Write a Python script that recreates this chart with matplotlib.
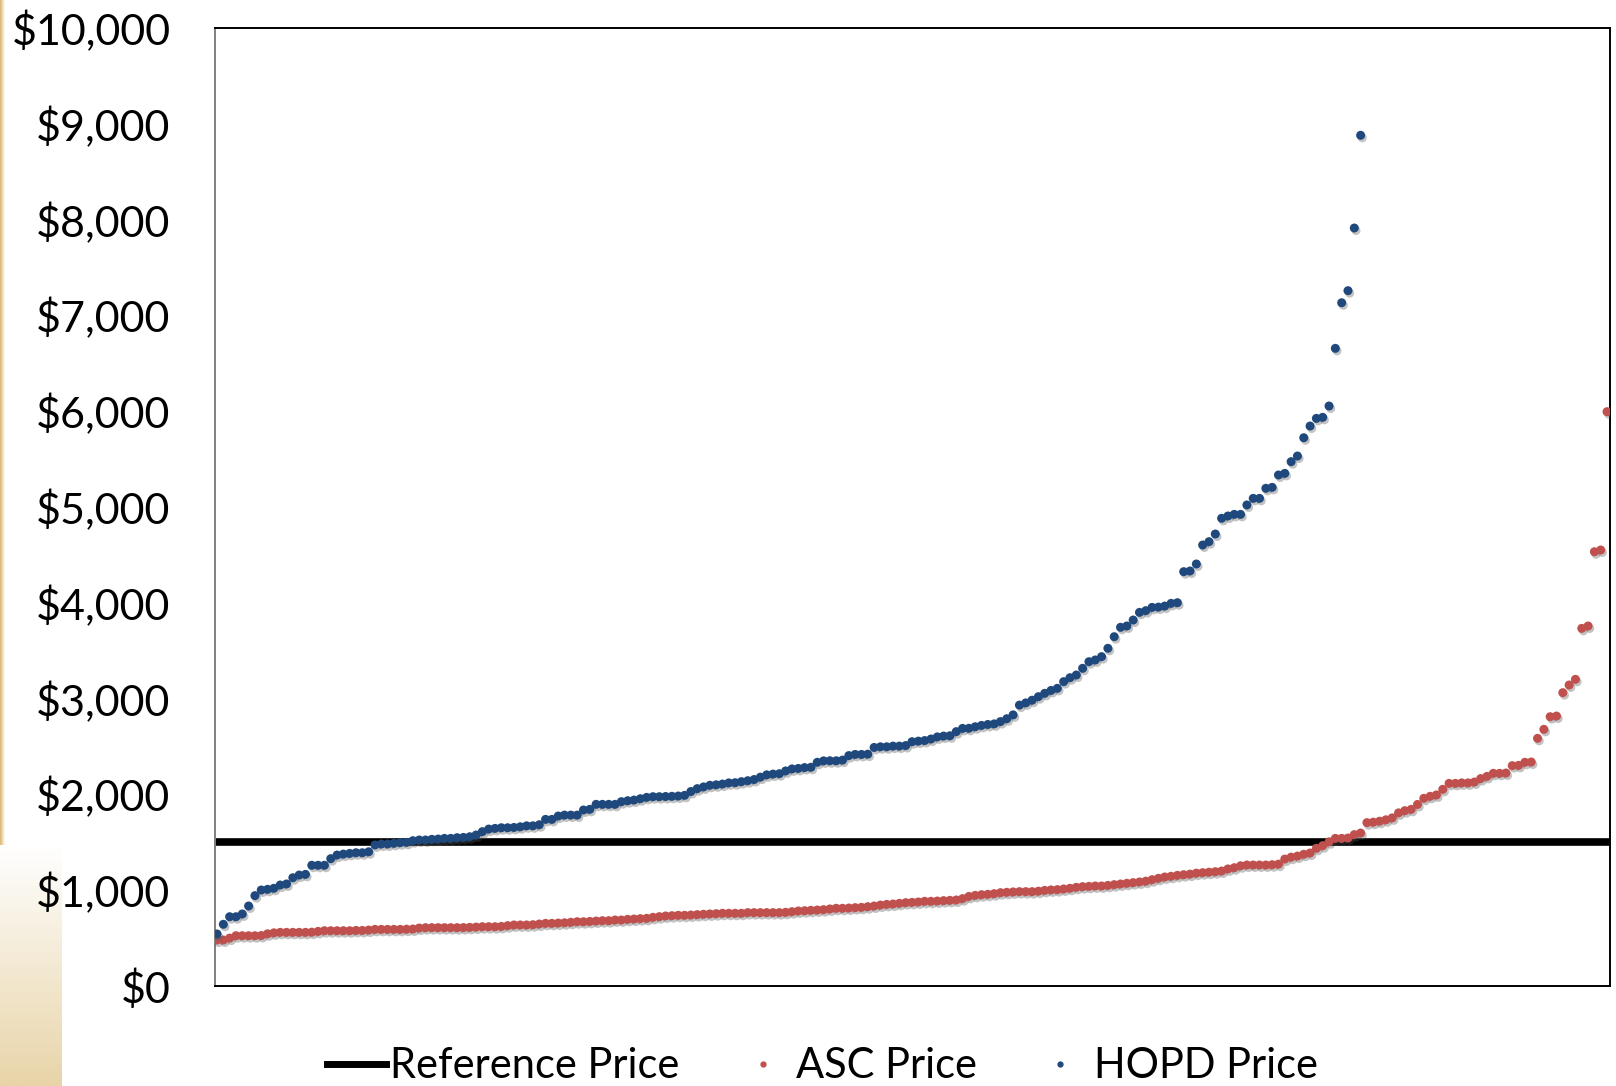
import numpy as np
import matplotlib
matplotlib.use("Agg")
import matplotlib.pyplot as plt
import matplotlib.patheffects as pe
from matplotlib.lines import Line2D
from matplotlib.ticker import FuncFormatter
from matplotlib.colors import LinearSegmentedColormap

plt.rcParams['font.family'] = ['Lato', 'DejaVu Sans']

reference_price = 1500

hopd_price = [
    543, 644, 723, 723, 752, 835, 943, 1002, 1009, 1020,
    1054, 1065, 1130, 1158, 1165, 1260, 1260, 1260, 1329, 1367,
    1377, 1384, 1391, 1391, 1401, 1472, 1482, 1482, 1489, 1496,
    1499, 1517, 1524, 1524, 1531, 1534, 1541, 1541, 1548, 1551,
    1558, 1576, 1611, 1638, 1645, 1652, 1652, 1655, 1662, 1672,
    1672, 1683, 1739, 1739, 1774, 1784, 1784, 1784, 1837, 1844,
    1896, 1896, 1896, 1896,
    1924, 1934, 1941, 1955, 1969, 1976, 1976, 1978, 1980, 1983,
    1990, 2030, 2060, 2078, 2095, 2100, 2108, 2120, 2122, 2133,
    2143, 2155, 2180, 2204, 2212, 2216, 2245, 2266, 2271, 2280,
    2283, 2335, 2350, 2351, 2351, 2358, 2405, 2417, 2417, 2420,
    2490, 2497, 2497, 2504, 2504, 2510, 2550, 2556, 2562, 2578,
    2600, 2609, 2612, 2655, 2689, 2690, 2706, 2720, 2730, 2736,
    2760, 2790, 2830, 2932, 2955, 2983, 3020, 3055, 3085, 3107,
    3177, 3218, 3246, 3316, 3385, 3403, 3438, 3525, 3646, 3744,
    3758, 3820, 3900, 3918, 3952, 3955, 3966, 3994, 4001, 4325,
    4332, 4405, 4603, 4638, 4718, 4882, 4906, 4923, 4923, 5021,
    5090, 5090, 5195, 5205, 5334, 5351, 5473, 5532, 5723, 5845,
    5925, 5936, 6054, 6656, 7132, 7258, 7912, 8880,
]

asc_price = [
    480, 480, 500, 525, 525, 525, 525, 527, 545, 555,
    560, 560, 560, 560, 560, 562, 570, 577, 577, 577,
    577, 577, 580, 580, 584, 591, 591, 591, 591, 591,
    593, 595, 605, 609, 609, 609, 609, 609, 609, 610,
    612, 615, 619, 619, 619, 622, 630, 637, 637, 637,
    640, 647, 654, 654, 657, 660, 665, 671, 671, 674,
    678,
    682, 682, 689, 689, 696, 699, 703, 706, 717,
    724, 731, 734, 738, 738, 741, 745, 749, 752, 755,
    759, 759, 759, 759, 766, 766, 766, 766, 766, 766,
    769, 776, 783, 786, 790, 793, 797, 804, 811, 811,
    814, 818, 821, 828, 835, 845, 852, 856, 863, 870,
    873, 877, 884, 884, 887, 891, 894, 898, 912, 935,
    946, 953, 957, 964, 974, 978, 982,
    985, 985, 985, 990, 998, 1003, 1006, 1013, 1020, 1030,
    1037, 1040, 1044, 1044, 1050, 1058, 1065, 1072, 1079, 1086,
    1094, 1110, 1124, 1138, 1145, 1155, 1162, 1168, 1178, 1183,
    1188, 1193, 1200, 1222, 1235, 1255, 1263, 1263, 1263, 1263,
    1266, 1272,
    1325, 1345, 1356, 1375, 1388, 1437, 1465, 1505, 1541, 1541,
    1545, 1580, 1597, 1705, 1710, 1720, 1735, 1755, 1807, 1830,
    1844, 1895, 1959, 1980, 1994, 2053, 2115, 2115, 2120, 2120,
    2129, 2165, 2188, 2220, 2220, 2223, 2300, 2303, 2335, 2338,
    2585, 2679, 2811, 2818, 3062, 3142, 3201, 3733, 3758, 4533,
    4551, 5995,
]

y_ticks = [0, 1000, 2000, 3000, 4000, 5000, 6000, 7000, 8000, 9000, 10000]

W, H = 1616, 1086
fig = plt.figure(figsize=(W / 100, H / 100), dpi=100)
fig.patch.set_facecolor('white')

# decorative gold gradient at left edge
strip = fig.add_axes([0, 0, 5 / W, 1])
grad_h = np.linspace(1, 0, 64).reshape(1, -1)
gold_cmap = LinearSegmentedColormap.from_list('gold', ['#ffffff', '#d9b469'])
strip.imshow(grad_h, aspect='auto', cmap=gold_cmap, extent=[0, 1, 0, 1])
strip.axis('off')
block = fig.add_axes([0, 0, 62 / W, (H - 845) / H])
grad_v = np.linspace(0, 1, 128).reshape(-1, 1)
block_cmap = LinearSegmentedColormap.from_list('tan', ['#ffffff', '#e8d4a8'])
block.imshow(grad_v, aspect='auto', cmap=block_cmap, extent=[0, 1, 0, 1], origin='upper')
block.axis('off')

ax = fig.add_axes([215 / W, 1 - 986 / H, (1610 - 215) / W, (986 - 28) / H])
ax.set_facecolor('white')

x_asc = np.arange(1, len(asc_price) + 1)
x_hopd = np.arange(1, len(hopd_price) + 1)

shadow = [pe.SimplePatchShadow(offset=(1.2, -1.8), shadow_rgbFace='#555555', alpha=0.35), pe.Normal()]

ax.axhline(reference_price, color='black', lw=5.5, zorder=2)
sc1 = ax.scatter(x_asc, asc_price, s=42, color='#c0504d', edgecolors='none', zorder=3)
sc2 = ax.scatter(x_hopd, hopd_price, s=42, color='#1f497d', edgecolors='none', zorder=4)
sc1.set_path_effects(shadow)
sc2.set_path_effects(shadow)

ax.set_xlim(0.68, 221.47)
ax.set_ylim(0, 10000)
ax.set_yticks(y_ticks)
ax.yaxis.set_major_formatter(FuncFormatter(lambda v, p: '${:,.0f}'.format(v)))
ax.set_xticks([])
ax.tick_params(axis='y', length=0, pad=32, labelsize=31)
for side in ['top', 'right', 'bottom']:
    ax.spines[side].set_color('black')
    ax.spines[side].set_linewidth(1.4)
ax.spines['left'].set_color('#808080')
ax.spines['left'].set_linewidth(1.4)

handles = [
    Line2D([], [], color='black', lw=5),
    Line2D([], [], color='#c0504d', marker='o', ms=3.5, ls='none'),
    Line2D([], [], color='#1f497d', marker='o', ms=3.5, ls='none'),
]
labels = ['Reference Price', 'ASC Price', 'HOPD Price']
fig.legend(handles, labels, loc='center', bbox_to_anchor=(0.509, 0.018), ncol=3,
           frameon=False, fontsize=30, handlelength=1.4, handletextpad=0.1,
           columnspacing=1.3, borderaxespad=0)

fig.savefig('out.png', dpi=100, facecolor='white')
